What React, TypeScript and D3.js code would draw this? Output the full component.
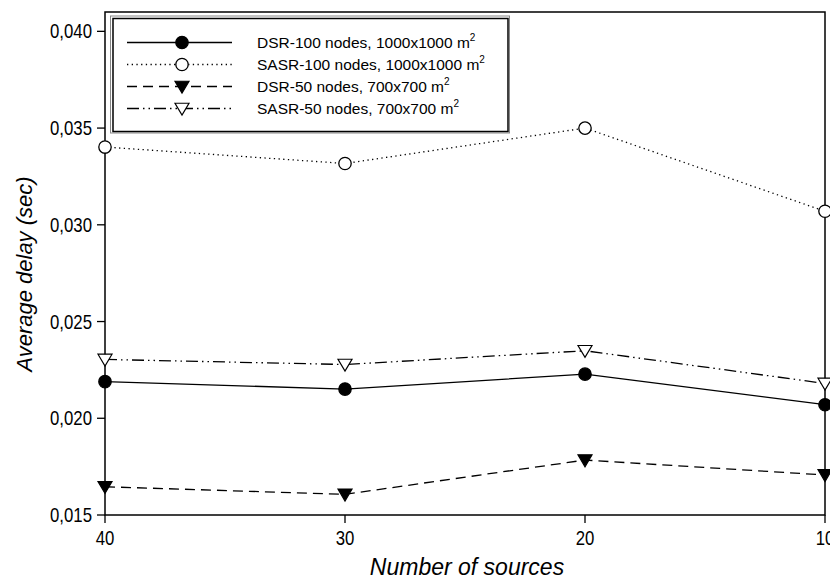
import React from "react"
import * as d3 from "d3"

// Data
const sources = [40, 30, 20, 10]
const dsr100 = [0.02189, 0.02151, 0.02228, 0.0207]
const sasr100 = [0.03402, 0.03317, 0.035, 0.0307]
const dsr50 = [0.01646, 0.01607, 0.01784, 0.01707]
const sasr50 = [0.02304, 0.02278, 0.02349, 0.0218]
const yTicks = [0.015, 0.02, 0.025, 0.03, 0.035, 0.04]

const seriesNames = [
    "DSR-100 nodes, 1000x1000 m",
    "SASR-100 nodes, 1000x1000 m",
    "DSR-50 nodes, 700x700 m",
    "SASR-50 nodes, 700x700 m",
]

const W = 830
const H = 579
const left = 105, right = 825, top = 12, bottom = 515

const font = "Arial, 'Liberation Sans', sans-serif"

type Marker = "dot" | "circle" | "tri" | "openTri"

const styles: { dash: string; marker: Marker }[] = [
    { dash: "none", marker: "dot" },
    { dash: "1.3 3.4", marker: "circle" },
    { dash: "10 6", marker: "tri" },
    { dash: "12 4 1.5 4 1.5 4", marker: "openTri" },
]

const drawMarker = (m: Marker, x: number, y: number, key: string) => {
    if (m === "dot" || m === "circle") {
        return <circle key={key} cx={x} cy={y} r={6.2}
            fill={m === "dot" ? "black" : "white"} stroke="black" strokeWidth={1.3} />
    }
    const s = 7
    const pts = `${x - s},${y - s * 0.75} ${x + s},${y - s * 0.75} ${x},${y + s * 0.95}`
    return <polygon key={key} points={pts}
        fill={m === "tri" ? "black" : "white"} stroke="black" strokeWidth={1.2} />
}

export default function App() {
    const x = d3.scaleLinear().domain([40, 10]).range([left, right])
    const y = d3.scaleLinear().domain([0.015, 0.041]).range([bottom, top])

    const allSeries = [dsr100, sasr100, dsr50, sasr50]
    const line = d3.line<number>()
        .x((_, i) => x(sources[i]))
        .y(d => y(d))

    const fmt = (v: number) => v.toFixed(3).replace(".", ",")

    const legendRows = [42.5, 64.5, 86.5, 108.5]

    return (
        <svg width={W} height={H} style={{ position: "fixed", left: 0, top: 0, background: "white" }}
            fontFamily={font}>
            {/* frame */}
            <rect x={left} y={top} width={right - left} height={bottom - top}
                fill="none" stroke="black" strokeWidth={1.5} />

            {/* y ticks */}
            {yTicks.map(t => (
                <g key={t}>
                    <line x1={left - 8} x2={left} y1={y(t)} y2={y(t)} stroke="black" strokeWidth={1.3} />
                    <text transform={`translate(${left - 13},${y(t) + 7}) scale(0.84,1)`}
                        fontSize={20} textAnchor="end">{fmt(t)}</text>
                </g>
            ))}

            {/* x ticks */}
            {sources.map(s => (
                <g key={s}>
                    <line x1={x(s)} x2={x(s)} y1={bottom} y2={bottom + 8} stroke="black" strokeWidth={1.3} />
                    <text transform={`translate(${x(s)},${bottom + 30}) scale(0.84,1)`}
                        fontSize={20} textAnchor="middle">{s}</text>
                </g>
            ))}

            {/* axis titles */}
            <text transform={`translate(32,274) rotate(-90)`} fontSize={22}
                fontStyle="italic" textAnchor="middle">Average delay (sec)</text>
            <text x={467} y={575} fontSize={23} fontStyle="italic"
                textAnchor="middle">Number of sources</text>

            {/* series */}
            {allSeries.map((vals, si) => (
                <g key={si}>
                    <path d={line(vals) || ""} fill="none" stroke="black" strokeWidth={1.3}
                        strokeDasharray={styles[si].dash} />
                    {vals.map((v, i) => drawMarker(styles[si].marker, x(sources[i]), y(v), `${si}-${i}`))}
                </g>
            ))}

            {/* legend */}
            <rect x={110.5} y={16} width={399} height={117} fill="none" stroke="#888" strokeWidth={1} />
            <rect x={113} y={18.5} width={395} height={113} fill="white" stroke="black" strokeWidth={1.5} />
            {seriesNames.map((name, i) => (
                <g key={name}>
                    <line x1={127} x2={232} y1={legendRows[i]} y2={legendRows[i]} stroke="black"
                        strokeWidth={1.3} strokeDasharray={styles[i].dash} />
                    {drawMarker(styles[i].marker, 182, legendRows[i], `l${i}`)}
                    <text x={257} y={legendRows[i] + 5.5} fontSize={15.5}>
                        {name}<tspan dy={-7} fontSize={10}>2</tspan>
                    </text>
                </g>
            ))}
        </svg>
    )
}
